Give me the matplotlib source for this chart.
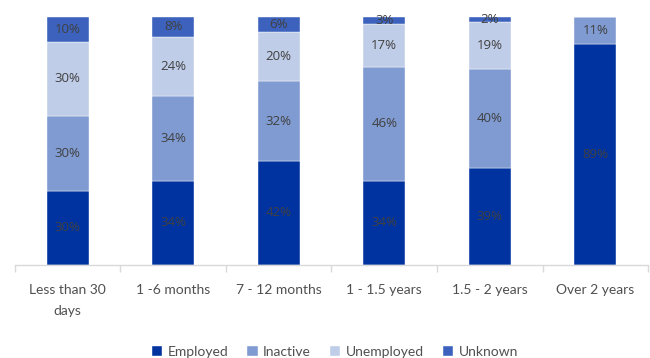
import matplotlib
matplotlib.use("Agg")
import matplotlib.pyplot as plt
import numpy as np

categories = ["Less than 30\ndays", "1 -6 months", "7 - 12 months",
              "1 - 1.5 years", "1.5 - 2 years", "Over 2 years"]
series_names = ["Employed", "Inactive", "Unemployed", "Unknown"]
employed = [30, 34, 42, 34, 39, 89]
inactive = [30, 34, 32, 46, 40, 11]
unemployed = [30, 24, 20, 17, 19, 0]
unknown = [10, 8, 6, 3, 2, 0]
colors = ["#0033A0", "#7F9BD1", "#BFCDE8", "#3C62BD"]
text_grey = "#505050"

fig = plt.figure(figsize=(6.5, 3.58), dpi=100)
ax = fig.add_axes([0.023, 0.26, 0.974, 0.6925])

x = np.arange(len(categories))
bottom = np.zeros(len(categories))
for name, vals, col in zip(series_names, [employed, inactive, unemployed, unknown], colors):
    vals = np.array(vals, dtype=float)
    ax.bar(x, vals, 0.4, bottom=bottom, color=col, label=name,
           edgecolor="white", linewidth=0.3)
    for xi, v, b in zip(x, vals, bottom):
        if v > 0:
            ax.text(xi, b + v / 2, f"{int(v)}%", ha="center", va="center",
                    fontsize=9.5, color="#404040", family="Open Sans")
    bottom += vals

ax.set_ylim(0, 100)
ax.set_xlim(-0.5, len(categories) - 0.5)
ax.set_yticks([])
for s in ["left", "right", "top"]:
    ax.spines[s].set_visible(False)
ax.spines["bottom"].set_color("#D9D9D9")
ax.spines["bottom"].set_linewidth(1)

ax.set_xticks(x)
ax.set_xticklabels(categories, fontsize=10, color=text_grey, family="Lato",
                   linespacing=1.9)
ax.tick_params(axis="x", length=0, pad=14)
ax.set_xticks(np.arange(-0.5, len(categories)), minor=True)
ax.tick_params(axis="x", which="minor", length=5, color="#D9D9D9", width=1)

leg = fig.legend(loc="lower center", bbox_to_anchor=(0.515, -0.035), ncol=4,
                 frameon=False, handlelength=0.75, handleheight=0.75,
                 handletextpad=0.4, columnspacing=1.35,
                 prop={"family": "Lato", "size": 10})
for t in leg.get_texts():
    t.set_color(text_grey)

fig.savefig("out.png", dpi=100, facecolor="white")
